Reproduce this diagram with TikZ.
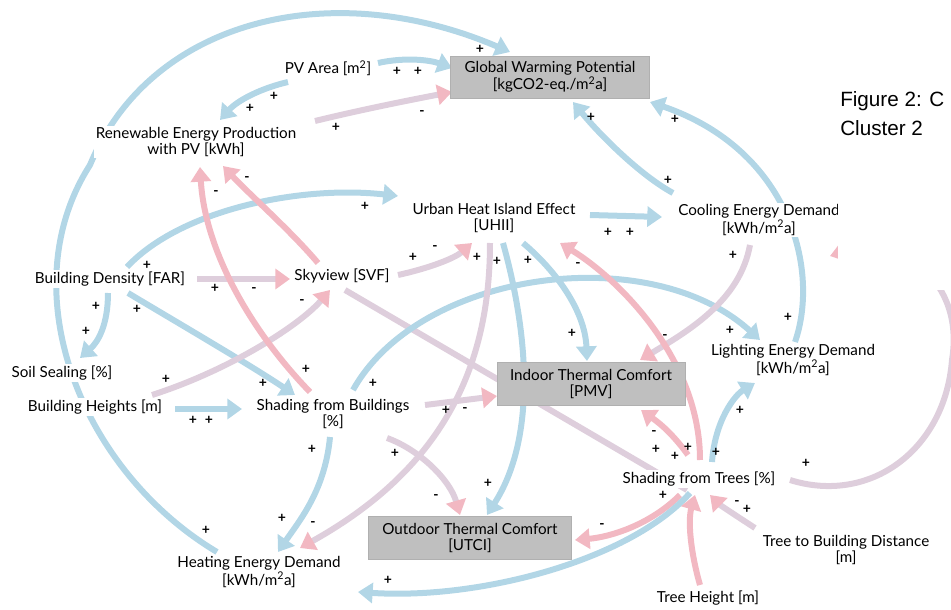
\documentclass[tikz,border=0pt]{standalone}
\usepackage{fontspec}
\setmainfont{Lato}
\newfontfamily\figfont{Liberation Sans}
\usetikzlibrary{arrows.meta,backgrounds,calc}

\definecolor{cblue}{RGB}{178,214,230}
\definecolor{cpink}{RGB}{242,184,194}
\definecolor{cmix}{RGB}{222,206,220}
\definecolor{cbox}{RGB}{191,191,191}

\begin{document}
\begin{tikzpicture}[
    x=0.75pt, y=-0.75pt,
    var/.style={fill=white, inner sep=1pt, align=center, font=\fontsize{11.4}{11.4}\selectfont},
    box/.style={fill=cbox, draw=cbox!92!black, inner sep=2pt, align=center, font=\fontsize{11.4}{11.4}\selectfont},
    sgn/.style={inner sep=0pt, font=\bfseries\fontsize{10.5}{10.5}\selectfont},
    link/.style={line width=4.5pt},
    bl/.style={link, draw=cblue, -{Triangle[length=11pt,width=15pt]}},
    pk/.style={link, draw=cpink, -{Triangle[length=11pt,width=15pt]}},
    mx/.style={link, draw=cmix, -{Triangle[length=11pt,width=15pt,color=cpink]}},
    ln/.style={link, draw=cmix}
  ]
  \useasboundingbox (0,0) rectangle (951,610);

  % Variables
  \node[var] (pv)   at (328,68)  {PV Area [m\textsuperscript{2}]};
  \node[box, minimum width=149pt, minimum height=31.5pt] (gwp) at (550,77)
        {Global Warming Potential\\{}[kgCO2-eq./m\textsuperscript{2}a]};
  \node[var] (ren)  at (196,142) {Renewable Energy Production\\with PV [kWh]};
  \node[var] (uhi)  at (494,218) {Urban Heat Island Effect\\{}[UHII]};
  \node[var] (cool) at (759,220) {Cooling Energy Demand\\{}[kWh/m\textsuperscript{2}a]};
  \node[var] (dens) at (110,279) {Building Density [FAR]};
  \node[var] (sky)  at (342,276) {Skyview [SVF]};
  \node[var] (soil) at (62,373)  {Soil Sealing [\%]};
  \node[var] (bh)   at (95,407)  {Building Heights [m]};
  \node[var] (sb)   at (333,414) {Shading from Buildings\\{}[\%]};
  \node[box, minimum width=141pt, minimum height=32pt] (itc) at (591,384)
        {Indoor Thermal Comfort\\{}[PMV]};
  \node[var] (led)  at (793,360) {Lighting Energy Demand\\{}[kWh/m\textsuperscript{2}a]};
  \node[var] (st)   at (699,479) {Shading from Trees [\%]};
  \node[box, minimum width=152pt, minimum height=32pt] (otc) at (470,538)
        {Outdoor Thermal Comfort\\{}[UTCI]};
  \node[var] (hed)  at (259,572) {Heating Energy Demand\\{}[kWh/m\textsuperscript{2}a]};
  \node[var] (tbd)  at (846,550) {Tree to Building Distance\\{}[m]};
  \node[var] (th)   at (708,598) {Tree Height [m]};

  \begin{scope}[on background layer]
    % links into the global warming potential
    \draw[bl] ($(pv)+(50,-5)$) .. controls (405,57) and (430,60) .. ($(gwp)+(-98,-9)$);
    \draw[bl] ($(pv)+(-40,14)$) .. controls (262,88) and (238,100) .. ($(ren)+(24,-22)$);
    \draw[mx] ($(ren)+(119,-21)$) .. controls (360,110) and (410,100) .. ($(gwp)+(-98,15)$);
    \draw[bl] ($(hed)+(-42,-20)$) .. controls (80,470) and (10,290) .. (90,165)
              .. controls (150,20) and (330,-25) .. ($(gwp)+(-40,-25)$);
    \draw[bl] ($(cool)+(-86,-27)$) .. controls (640,175) and (600,135) .. ($(gwp)+(23,25)$);
    \draw[bl] ($(led)+(2,-18)$) .. controls (820,270) and (790,150) .. ($(gwp)+(100,25)$);

    % building density and heights
    \draw[bl] ($(dens)+(17,-12)$) .. controls (180,210) and (300,185) .. ($(uhi)+(-96,-22)$);
    \draw[mx] ($(dens)+(87,0)$) -- ($(sky)+(-52,3)$);
    \draw[bl] ($(dens)+(-2,14)$) .. controls (108,325) and (98,342) .. ($(soil)+(18,-15)$);
    \draw[bl] ($(dens)+(18,14)$) .. controls (190,330) and (250,365) .. ($(sb)+(-38,-19)$);
    \draw[bl] ($(bh)+(80,2)$) -- ($(sb)+(-91,-5)$);
    \draw[mx] ($(bh)+(57,-12)$) .. controls (230,370) and (300,325) .. ($(sky)+(-12,14)$);

    % skyview and shading from buildings
    \draw[pk] ($(sb)+(-23,-22)$) .. controls (250,330) and (205,250) .. ($(ren)+(4,25)$);
    \draw[pk] ($(sky)+(-24,-13)$) .. controls (290,230) and (250,195) .. ($(ren)+(27,24)$);
    \draw[mx] ($(sky)+(56,-1)$) .. controls (430,268) and (455,258) .. ($(uhi)+(-22,25)$);
    \draw[ln] ($(sky)+(3,14)$) -- ($(st)+(-12,11)$);
    \draw[mx] ($(sb)+(54,24)$) .. controls (420,450) and (450,480) .. ($(otc)+(-10,-23)$);
    \draw[bl] ($(sb)+(-3,23)$) .. controls (325,490) and (300,520) .. ($(hed)+(19,-20)$);
    \draw[mx] ($(sb)+(92,-9)$) -- ($(itc)+(-94,12)$);
    \draw[bl] ($(sb)+(20,-24)$) .. controls (420,270) and (650,240) .. ($(led)+(-33,-20)$);

    % urban heat island and cooling
    \draw[bl] ($(uhi)+(96,-3)$) -- ($(cool)+(-97,-3)$);
    \draw[bl] ($(uhi)+(29,25)$) .. controls (555,270) and (585,310) .. ($(itc)+(-4,-23)$);
    \draw[bl] ($(uhi)+(9,25)$) .. controls (530,340) and (535,440) .. ($(otc)+(17,-23)$);
    \draw[mx] ($(uhi)+(-4,25)$) .. controls (490,370) and (440,470) .. ($(hed)+(41,-24)$);
    \draw[mx] ($(cool)+(-9,25)$) .. controls (740,300) and (690,330) .. ($(itc)+(49,-24)$);

    % shading from trees
    \draw[mx] ($(st)+(91,1)$) .. controls (870,505) and (945,450) .. (952,360)
              .. controls (965,280) and (900,235) .. ($(cool)+(71,36)$);
    \draw[pk] ($(st)+(-11,-24)$) .. controls (670,430) and (655,420) .. ($(itc)+(50,26)$);
    \draw[bl] ($(st)+(13,-17)$) .. controls (715,420) and (735,395) .. ($(led)+(-38,23)$);
    \draw[pk] ($(st)+(1,-19)$) .. controls (700,360) and (620,280) .. ($(uhi)+(66,25)$);
    \draw[pk] ($(st)+(-19,16)$) .. controls (650,525) and (610,537) .. ($(otc)+(105,2)$);
    \draw[bl] ($(st)+(-9,14)$) .. controls (630,560) and (480,600) .. ($(hed)+(99,20)$);
    \draw[pk] ($(th)+(-8,-13)$) .. controls (690,550) and (688,520) .. ($(st)+(-4,16)$);
    \draw[mx] ($(tbd)+(-91,-22)$) .. controls (735,515) and (720,505) .. ($(st)+(11,16)$);
  \end{scope}

  % polarity signs
  \foreach \px/\py/\s [count=\i] in {480/49/+, 397/71/+, 418/71/+, 274/96/+, 250/108/+,
      336/127/+, 422/113/-, 591/117/+, 675/119/+, 668/180/+, 216/193/-, 247/179/-,
      365/206/+, 147/265/+, 413/257/+, 435/248/-, 477/257/+, 497/261/+, 528/260/+,
      578/265/-, 608/232/+, 630/232/+, 733/255/+, 215/288/+, 254/290/-, 302/302/-,
      96/306/+, 137/309/+, 86/331/+, 788/317/+, 572/333/+, 665/337/-, 730/330/+,
      166/379/+, 306/369/+, 263/383/+, 373/383/+, 193/420/+, 209/420/+, 446/410/+,
      465/410/-, 740/410/+, 654/433/-, 656/449/+, 675/456/+, 688/447/+, 716/452/+,
      312/449/+, 395/453/+, 806/463/+, 488/483/+, 663/495/+, 737/503/-, 747/509/+,
      436/497/-, 602/526/-, 206/530/+, 282/518/+, 313/524/-, 388/580/+}
    \node[sgn] (s\i) at (\px,\py) {\s};

  % cropped right margin
  \fill[white] (838,0) rectangle (951,290);
  \node[anchor=north west, inner sep=0pt, align=left,
        font=\figfont\fontsize{15.5}{21.75}\selectfont] (fig) at (840,91)
        {Figure 2: C\\Cluster 2};
\end{tikzpicture}
\end{document}
